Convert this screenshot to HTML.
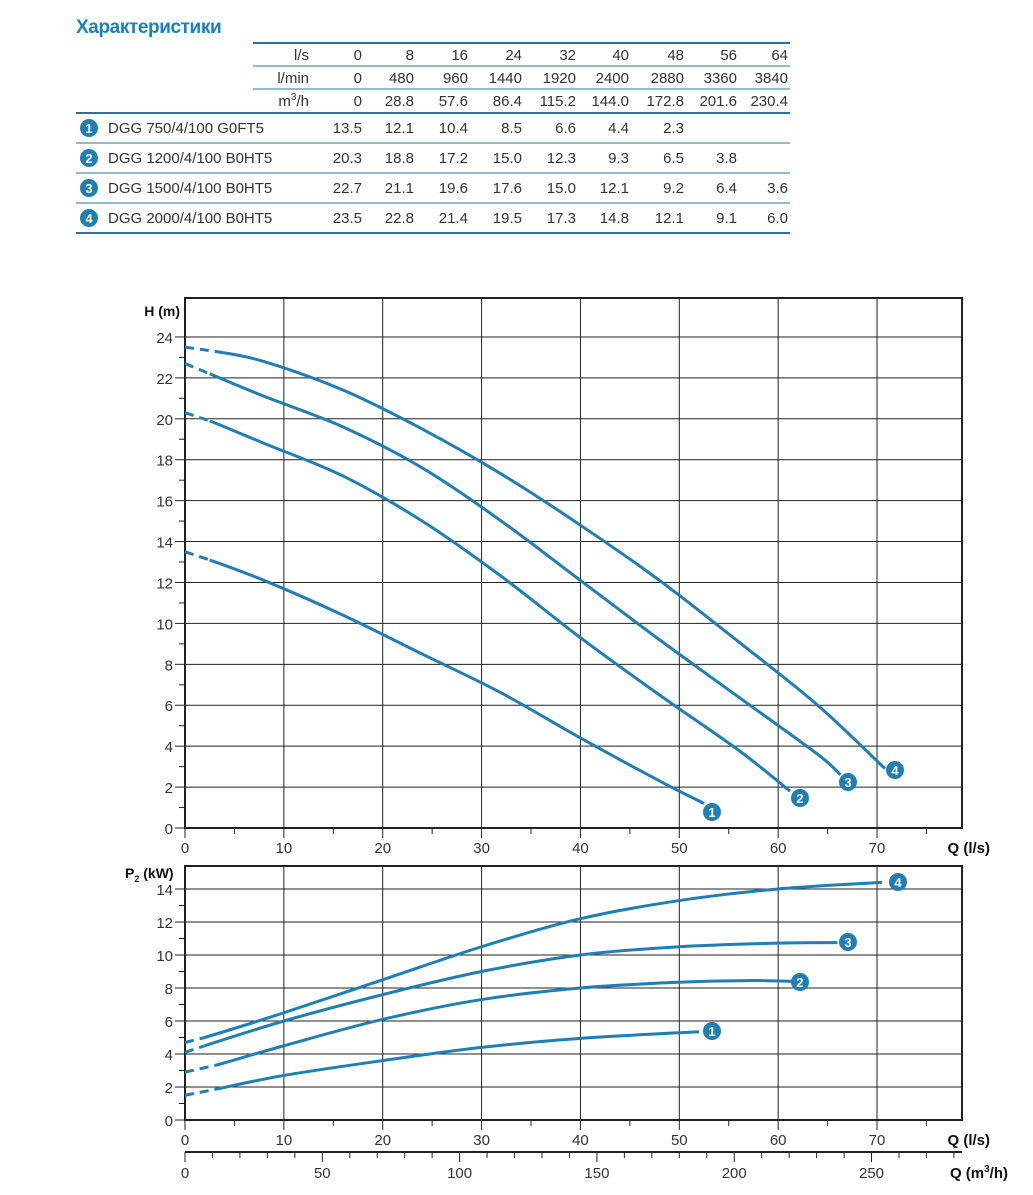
<!DOCTYPE html>
<html><head><meta charset="utf-8"><style>
body{margin:0;background:#fff;width:1033px;height:1195px;overflow:hidden;font-family:"Liberation Sans",sans-serif;}
svg{position:absolute;left:0;top:0}
</style></head><body>
<svg id="s" width="1033" height="1195" xmlns="http://www.w3.org/2000/svg" font-family="Liberation Sans, sans-serif"></svg>
<script>
var s=document.getElementById('s'),h='';
var B='#1f7fb5';
function T(x,y,t,o){o=o||{};h+='<text x="'+x+'" y="'+y+'" font-size="'+(o.fs||15)+'" fill="'+(o.c||'#333')+'" text-anchor="'+(o.a||'end')+'"'+(o.b?' font-weight="bold"':'')+(o.ls?' letter-spacing="'+o.ls+'"':'')+'>'+t+'</text>';}
function L(x1,y1,x2,y2,c,w){h+='<line x1="'+x1+'" y1="'+y1+'" x2="'+x2+'" y2="'+y2+'" stroke="'+c+'" stroke-width="'+(w||1)+'"/>';}
function M(x,y,n){h+='<circle cx="'+x+'" cy="'+y+'" r="9" fill="'+B+'"/>';T(x,y+5,n,{fs:13,c:'#fff',a:'middle',b:1});}
// Table
T(76,33,'Характеристики',{fs:19,c:'#1a7fc1',a:'start',b:1,ls:-0.4});
var lc='#2c6f9c';
L(253,43,790,43,lc,2);L(253,66,790,66,lc,1);L(253,89,790,89,lc,1);
[113,143,173,203,233].forEach(function(y){L(76,y,790,y,lc,y==113||y==233?2:1)});
var cx=[362,414,468,522,576,629,684,737,788];
var rows=[['l/s',0,8,16,24,32,40,48,56,64],['l/min',0,480,960,1440,1920,2400,2880,3360,3840],['m<tspan font-size="10" dy="-6">3</tspan><tspan dy="6">/h</tspan>',0,28.8,57.6,86.4,115.2,'144.0',172.8,201.6,230.4]];
rows.forEach(function(r,i){var y=60+i*23;T(309,y,r[0]);for(var j=1;j<r.length;j++)T(cx[j-1],y,r[j]);});
var dat=[['DGG 750/4/100 G0FT5',13.5,12.1,10.4,8.5,6.6,4.4,2.3],['DGG 1200/4/100 B0HT5',20.3,18.8,17.2,'15.0',12.3,9.3,6.5,3.8],['DGG 1500/4/100 B0HT5',22.7,21.1,19.6,17.6,'15.0',12.1,9.2,6.4,3.6],['DGG 2000/4/100 B0HT5',23.5,22.8,21.4,19.5,17.3,14.8,12.1,9.1,'6.0']];
dat.forEach(function(r,i){var y=133+i*30;M(89,y-5,i+1);T(108,y,r[0],{a:'start'});for(var j=1;j<r.length;j++)T(cx[j-1],y,r[j]);});
// Charts
var X0=185,XR=962,sx=9.886;
function px(q){return X0+q*sx}
function pyH(v){return 828-v*20.46}
function pyP(v){return 1120-v*16.5}
var g='#222';
for(var q=10;q<=70;q+=10)L(px(q),298,px(q),828,g,1);
for(var v=2;v<=24;v+=2)L(X0,pyH(v),XR,pyH(v),g,1);
h+='<rect x="'+X0+'" y="298" width="'+(XR-X0)+'" height="530" fill="none" stroke="#222" stroke-width="2"/>';
for(var v=0;v<=24;v++){L(X0-(v%2?6:10),pyH(v),X0,pyH(v),g,1);if(v%2==0)T(173,pyH(v)+6,v,{fs:15});}
for(var q=0;q<=75;q+=5)L(px(q),828,px(q),q%10?834:838,g,1);
for(var q=0;q<=70;q+=10)T(px(q),853,q,{fs:15,a:'middle'});
T(180,316,'H (m)',{fs:14,b:1,c:'#111'});
T(990,853,'Q (l/s)',{fs:15,b:1,c:'#111'});
for(var q=10;q<=70;q+=10)L(px(q),866,px(q),1120,g,1);
for(var v=2;v<=14;v+=2)L(X0,pyP(v),XR,pyP(v),g,1);
h+='<rect x="'+X0+'" y="866" width="'+(XR-X0)+'" height="254" fill="none" stroke="#222" stroke-width="2"/>';
for(var v=0;v<=14;v++){L(X0-(v%2?6:10),pyP(v),X0,pyP(v),g,1);if(v%2==0)T(173,pyP(v)+6,v,{fs:15});}
for(var q=0;q<=75;q+=5)L(px(q),1120,px(q),q%10?1126:1130,g,1);
for(var q=0;q<=70;q+=10)T(px(q),1145,q,{fs:15,a:'middle'});
h+='<text x="125" y="878" font-size="14" font-weight="bold" fill="#111">P<tspan font-size="9" dy="4">2</tspan><tspan dy="-4"> (kW)</tspan></text>';
T(990,1145,'Q (l/s)',{fs:15,b:1,c:'#111'});
L(X0,1152,XR,1152,g,2);
for(var m=0;m<=280;m+=10){var x=X0+m/3.6*sx;if(x>XR)break;L(x,1152,x,m%50?1158:1162,g,1);}
for(var m=0;m<=250;m+=50)T(X0+m/3.6*sx,1178,m,{fs:15,a:'middle'});
h+='<text x="1008" y="1178" font-size="15" font-weight="bold" fill="#111" text-anchor="end">Q (m<tspan font-size="10" dy="-6">3</tspan><tspan dy="6">/h)</tspan></text>';
function path(pts,fy){var p=pts.map(function(a){return[px(a[0]),fy(a[1])]});var d='M'+p[0][0]+','+p[0][1];
for(var i=0;i<p.length-1;i++){var p0=p[i-1]||p[i],p1=p[i],p2=p[i+1],p3=p[i+2]||p2;
d+=' C'+(p1[0]+(p2[0]-p0[0])/6)+','+(p1[1]+(p2[1]-p0[1])/6)+' '+(p2[0]-(p3[0]-p1[0])/6)+','+(p2[1]-(p3[1]-p1[1])/6)+' '+p2[0]+','+p2[1];}return d;}
function curve(pts,fy,dash0){
 var dd=path(pts,fy);
 h+='<path d="'+dd+'" fill="none" stroke="'+B+'" stroke-width="3" stroke-dasharray="0 '+dash0+' 100000"/>';
 var a=pts[0],b=pts[1];
 h+='<line x1="'+px(a[0])+'" y1="'+fy(a[1])+'" x2="'+px(b[0])+'" y2="'+fy(b[1])+'" stroke="'+B+'" stroke-width="3" stroke-dasharray="9 6"/>';
}
var H=[
 [[0,13.5],[2.5,13.1],[8,12.1],[16,10.4],[24,8.5],[32,6.6],[40,4.4],[48,2.3],[52.5,1.2]],
 [[0,20.3],[2.5,19.9],[8,18.8],[16,17.2],[24,15.0],[32,12.3],[40,9.3],[48,6.5],[56,3.8],[61.2,1.8]],
 [[0,22.7],[2.5,22.2],[8,21.1],[16,19.6],[24,17.6],[32,15.0],[40,12.1],[48,9.2],[56,6.4],[64,3.6],[66.3,2.6]],
 [[0,23.5],[3,23.3],[8,22.8],[16,21.4],[24,19.5],[32,17.3],[40,14.8],[48,12.1],[56,9.1],[64,6.0],[70.8,2.9]]];
H.forEach(function(c){var a=c[0],b=c[1];curve(c,pyH,Math.hypot((b[0]-a[0])*sx,(pyH(b[1])-pyH(a[1]))));});
M(712,812,1);M(800,798,2);M(848,782,3);M(895,770,4);
var P=[
 [[0,1.5],[3,1.85],[10,2.7],[20,3.6],[30,4.4],[40,4.95],[52,5.35]],
 [[0,2.9],[3,3.3],[10,4.5],[20,6.1],[30,7.3],[40,8.0],[50,8.35],[57,8.45],[61.5,8.4]],
 [[0,4.1],[2,4.5],[10,6.0],[20,7.6],[30,9.0],[40,10.0],[50,10.5],[60,10.72],[66,10.75]],
 [[0,4.7],[2,5.0],[10,6.5],[20,8.5],[30,10.5],[40,12.2],[50,13.3],[60,14.0],[70.5,14.4]]];
P.forEach(function(c){var a=c[0],b=c[1];curve(c,pyP,Math.hypot((b[0]-a[0])*sx,(pyP(b[1])-pyP(a[1]))));});
M(712,1031,1);M(800,982,2);M(848,942,3);M(898,882,4);
s.innerHTML=h;
</script>
</body></html>
